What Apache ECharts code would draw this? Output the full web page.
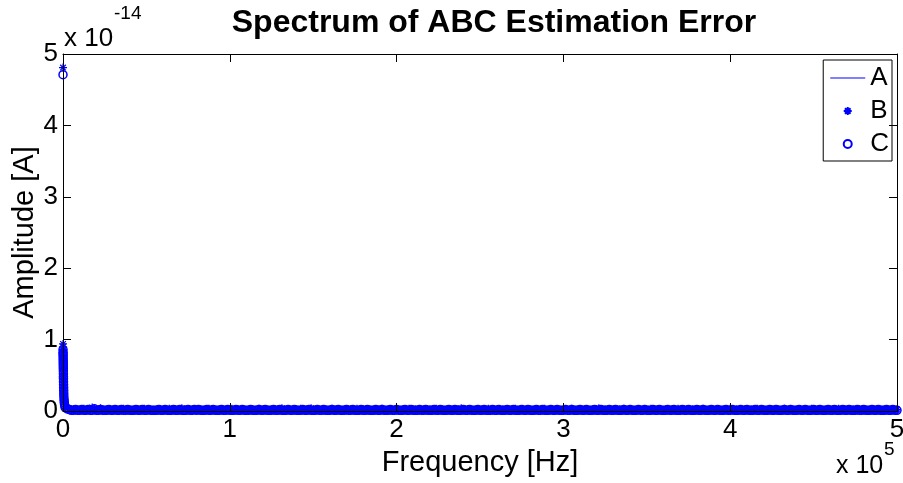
<!DOCTYPE html>
<html>
<head>
<meta charset="utf-8">
<script src="https://cdn.jsdelivr.net/npm/echarts@6/dist/echarts.min.js"></script>
<style>html,body{margin:0;padding:0;background:#fff}#c{width:903px;height:483px}</style>
</head>
<body>
<div id="c"></div>
<script>
// Frequency bins [Hz]
var freqHz = [
0,20,40,60,80,100,120,140,160,180,200,220,240,260,280,300,340,380,420,460,500,600,700,800,1000,
1250,2500,3750,5000,6250,7500,8750,10000,
11250,12500,13750,15000,16250,17500,18750,20000,
21250,22500,23750,25000,26250,27500,28750,30000,
31250,32500,33750,35000,36250,37500,38750,40000,
41250,42500,43750,45000,46250,47500,48750,50000,
51250,52500,53750,55000,56250,57500,58750,60000,
61250,62500,63750,65000,66250,67500,68750,70000,
71250,72500,73750,75000,76250,77500,78750,80000,
81250,82500,83750,85000,86250,87500,88750,90000,
91250,92500,93750,95000,96250,97500,98750,100000,
101250,102500,103750,105000,106250,107500,108750,110000,
111250,112500,113750,115000,116250,117500,118750,120000,
121250,122500,123750,125000,126250,127500,128750,130000,
131250,132500,133750,135000,136250,137500,138750,140000,
141250,142500,143750,145000,146250,147500,148750,150000,
151250,152500,153750,155000,156250,157500,158750,160000,
161250,162500,163750,165000,166250,167500,168750,170000,
171250,172500,173750,175000,176250,177500,178750,180000,
181250,182500,183750,185000,186250,187500,188750,190000,
191250,192500,193750,195000,196250,197500,198750,200000,
201250,202500,203750,205000,206250,207500,208750,210000,
211250,212500,213750,215000,216250,217500,218750,220000,
221250,222500,223750,225000,226250,227500,228750,230000,
231250,232500,233750,235000,236250,237500,238750,240000,
241250,242500,243750,245000,246250,247500,248750,250000,
251250,252500,253750,255000,256250,257500,258750,260000,
261250,262500,263750,265000,266250,267500,268750,270000,
271250,272500,273750,275000,276250,277500,278750,280000,
281250,282500,283750,285000,286250,287500,288750,290000,
291250,292500,293750,295000,296250,297500,298750,300000,
301250,302500,303750,305000,306250,307500,308750,310000,
311250,312500,313750,315000,316250,317500,318750,320000,
321250,322500,323750,325000,326250,327500,328750,330000,
331250,332500,333750,335000,336250,337500,338750,340000,
341250,342500,343750,345000,346250,347500,348750,350000,
351250,352500,353750,355000,356250,357500,358750,360000,
361250,362500,363750,365000,366250,367500,368750,370000,
371250,372500,373750,375000,376250,377500,378750,380000,
381250,382500,383750,385000,386250,387500,388750,390000,
391250,392500,393750,395000,396250,397500,398750,400000,
401250,402500,403750,405000,406250,407500,408750,410000,
411250,412500,413750,415000,416250,417500,418750,420000,
421250,422500,423750,425000,426250,427500,428750,430000,
431250,432500,433750,435000,436250,437500,438750,440000,
441250,442500,443750,445000,446250,447500,448750,450000,
451250,452500,453750,455000,456250,457500,458750,460000,
461250,462500,463750,465000,466250,467500,468750,470000,
471250,472500,473750,475000,476250,477500,478750,480000,
481250,482500,483750,485000,486250,487500,488750,490000,
491250,492500,493750,495000,496250,497500,498750,500000
];
// Amplitudes in units of 1e-14 A
var ampA = [
0.80,0.78,0.76,0.74,0.71,0.68,0.65,0.62,0.59,0.56,0.53,0.50,0.47,0.44,0.41,0.38,0.34,0.30,0.26,0.22,0.18,0.15,0.12,0.09,0.07,
0.05,0.03,0.02,0.01,0.01,0.00,0.01,0.02,
0.01,0.00,0.01,0.01,0.02,0.01,0.00,0.01,
0.01,0.02,0.01,0.00,0.01,0.01,0.01,0.02,
0.00,0.01,0.01,0.01,0.02,0.01,0.00,0.01,
0.01,0.01,0.02,0.01,0.00,0.01,0.01,0.02,
0.01,0.01,0.00,0.01,0.01,0.02,0.01,0.00,
0.01,0.01,0.02,0.00,0.01,0.01,0.01,0.02,
0.01,0.00,0.01,0.01,0.01,0.02,0.00,0.01,
0.01,0.01,0.02,0.01,0.00,0.01,0.01,0.02,
0.01,0.00,0.01,0.01,0.01,0.02,0.01,0.00,
0.01,0.01,0.02,0.01,0.00,0.01,0.01,0.01,
0.02,0.00,0.01,0.01,0.01,0.02,0.01,0.00,
0.01,0.01,0.02,0.01,0.00,0.01,0.01,0.01,
0.02,0.01,0.00,0.01,0.01,0.01,0.02,0.00,
0.01,0.01,0.02,0.01,0.00,0.01,0.01,0.01,
0.02,0.01,0.00,0.01,0.01,0.02,0.01,0.00,
0.01,0.01,0.01,0.02,0.01,0.00,0.01,0.01,
0.02,0.01,0.00,0.01,0.01,0.01,0.02,0.01,
0.00,0.01,0.01,0.02,0.01,0.00,0.01,0.01,
0.01,0.02,0.00,0.01,0.01,0.02,0.01,0.00,
0.01,0.01,0.01,0.02,0.01,0.00,0.01,0.01,
0.02,0.01,0.00,0.01,0.01,0.01,0.02,0.01,
0.00,0.01,0.01,0.02,0.01,0.00,0.01,0.01,
0.01,0.02,0.01,0.00,0.01,0.01,0.02,0.01,
0.00,0.01,0.01,0.01,0.02,0.01,0.00,0.01,
0.01,0.02,0.01,0.00,0.01,0.01,0.01,0.02,
0.01,0.00,0.01,0.01,0.02,0.01,0.00,0.01,
0.01,0.01,0.02,0.01,0.00,0.01,0.01,0.02,
0.01,0.00,0.01,0.01,0.01,0.02,0.01,0.00,
0.01,0.01,0.02,0.01,0.00,0.01,0.01,0.01,
0.02,0.01,0.00,0.01,0.01,0.02,0.01,0.00,
0.01,0.01,0.01,0.02,0.01,0.00,0.01,0.01,
0.02,0.01,0.00,0.01,0.01,0.01,0.02,0.01,
0.00,0.01,0.01,0.02,0.01,0.00,0.01,0.01,
0.01,0.02,0.01,0.00,0.01,0.01,0.02,0.01,
0.00,0.01,0.01,0.01,0.02,0.01,0.00,0.01,
0.01,0.02,0.01,0.00,0.01,0.01,0.01,0.02,
0.01,0.00,0.01,0.01,0.02,0.01,0.00,0.01,
0.01,0.01,0.02,0.01,0.00,0.01,0.01,0.02,
0.01,0.00,0.01,0.01,0.01,0.02,0.01,0.00,
0.01,0.01,0.02,0.01,0.00,0.01,0.01,0.01,
0.02,0.01,0.00,0.01,0.01,0.02,0.01,0.00,
0.01,0.01,0.01,0.02,0.01,0.00,0.01,0.01,
0.02,0.01,0.00,0.01,0.01,0.01,0.02,0.01,
0.00,0.01,0.01,0.02,0.01,0.00,0.01,0.01,
0.01,0.02,0.01,0.00,0.01,0.01,0.02,0.01,
0.00,0.01,0.01,0.01,0.02,0.01,0.00,0.01,
0.01,0.02,0.01,0.00,0.01,0.01,0.01,0.02,
0.01,0.00,0.01,0.01,0.02,0.01,0.01,0.01
];
var ampB = [
4.81,0.94,0.90,0.86,0.82,0.79,0.76,0.73,0.70,0.67,0.64,0.60,0.56,0.52,0.48,0.44,0.40,0.36,0.32,0.28,0.24,0.20,0.16,0.12,0.09,
0.06,0.04,0.03,0.02,0.02,0.01,0.02,0.01,
0.01,0.03,0.01,0.02,0.01,0.05,0.02,0.01,
0.01,0.04,0.01,0.01,0.02,0.01,0.01,0.02,
0.01,0.01,0.02,0.01,0.03,0.01,0.01,0.02,
0.01,0.01,0.01,0.02,0.01,0.01,0.03,0.01,
0.02,0.01,0.01,0.01,0.02,0.01,0.01,0.01,
0.02,0.01,0.03,0.01,0.01,0.02,0.01,0.01,
0.04,0.01,0.02,0.01,0.01,0.01,0.02,0.01,
0.01,0.02,0.01,0.01,0.01,0.03,0.01,0.02,
0.01,0.01,0.02,0.01,0.01,0.01,0.02,0.01,
0.03,0.01,0.01,0.02,0.01,0.01,0.02,0.01,
0.01,0.01,0.02,0.01,0.01,0.03,0.01,0.02,
0.01,0.01,0.01,0.02,0.01,0.01,0.02,0.01,
0.04,0.01,0.01,0.02,0.01,0.01,0.01,0.02,
0.01,0.03,0.01,0.01,0.02,0.01,0.04,0.01,
0.01,0.02,0.01,0.01,0.01,0.02,0.01,0.01,
0.03,0.01,0.02,0.01,0.01,0.01,0.02,0.01,
0.01,0.02,0.01,0.01,0.03,0.01,0.01,0.02,
0.01,0.01,0.02,0.01,0.01,0.01,0.02,0.01,
0.03,0.01,0.01,0.02,0.01,0.01,0.01,0.02,
0.01,0.01,0.02,0.01,0.01,0.03,0.01,0.01,
0.02,0.01,0.01,0.01,0.02,0.01,0.01,0.02,
0.01,0.01,0.03,0.01,0.01,0.02,0.01,0.01,
0.01,0.02,0.01,0.01,0.02,0.01,0.04,0.01,
0.01,0.02,0.01,0.01,0.01,0.02,0.01,0.01,
0.02,0.01,0.01,0.03,0.01,0.01,0.02,0.01,
0.01,0.01,0.02,0.01,0.01,0.02,0.01,0.01,
0.03,0.01,0.01,0.02,0.01,0.01,0.01,0.02,
0.01,0.01,0.02,0.01,0.01,0.01,0.03,0.01,
0.01,0.02,0.01,0.01,0.02,0.01,0.01,0.01,
0.02,0.01,0.01,0.03,0.01,0.01,0.02,0.01,
0.01,0.01,0.02,0.01,0.01,0.02,0.01,0.01,
0.04,0.01,0.01,0.02,0.01,0.01,0.01,0.02,
0.01,0.01,0.02,0.01,0.03,0.01,0.01,0.02,
0.01,0.01,0.01,0.02,0.01,0.01,0.02,0.01,
0.01,0.03,0.01,0.01,0.02,0.01,0.01,0.01,
0.02,0.01,0.01,0.02,0.01,0.01,0.03,0.01,
0.01,0.02,0.01,0.01,0.01,0.02,0.01,0.01,
0.02,0.01,0.03,0.01,0.01,0.02,0.01,0.01,
0.01,0.02,0.01,0.01,0.02,0.01,0.01,0.03,
0.01,0.01,0.02,0.01,0.01,0.01,0.02,0.01,
0.01,0.02,0.01,0.01,0.03,0.01,0.01,0.02,
0.01,0.01,0.01,0.02,0.01,0.01,0.02,0.01,
0.01,0.03,0.01,0.01,0.02,0.01,0.01,0.01,
0.02,0.01,0.01,0.02,0.01,0.01,0.03,0.01,
0.01,0.02,0.01,0.01,0.01,0.02,0.01,0.01,
0.02,0.01,0.01,0.03,0.01,0.01,0.02,0.01,
0.01,0.01,0.02,0.01,0.01,0.02,0.01,0.01,
0.02,0.01,0.01,0.01,0.02,0.01,0.01,0.01,
0.01,0.02,0.01,0.01,0.01,0.02,0.01,0.02
];
var ampC = [
4.71,0.86,0.82,0.80,0.77,0.74,0.71,0.68,0.65,0.62,0.59,0.56,0.52,0.48,0.45,0.41,0.37,0.33,0.29,0.25,0.21,0.17,0.14,0.11,0.08,
0.05,0.03,0.02,0.01,0.01,0.02,0.01,0.01,
0.02,0.01,0.01,0.02,0.01,0.01,0.03,0.01,
0.01,0.02,0.01,0.01,0.01,0.02,0.01,0.01,
0.02,0.01,0.01,0.02,0.01,0.01,0.02,0.01,
0.01,0.01,0.02,0.01,0.01,0.02,0.01,0.01,
0.02,0.01,0.01,0.01,0.01,0.02,0.01,0.01,
0.02,0.01,0.01,0.01,0.02,0.01,0.01,0.02,
0.01,0.01,0.01,0.02,0.01,0.01,0.02,0.01,
0.02,0.01,0.01,0.01,0.02,0.01,0.01,0.02,
0.01,0.01,0.01,0.02,0.01,0.01,0.02,0.01,
0.01,0.01,0.02,0.01,0.01,0.02,0.01,0.01,
0.01,0.02,0.01,0.01,0.01,0.02,0.01,0.01,
0.02,0.01,0.01,0.01,0.02,0.01,0.01,0.02,
0.01,0.01,0.01,0.02,0.01,0.01,0.02,0.01,
0.01,0.01,0.02,0.01,0.01,0.02,0.01,0.01,
0.01,0.02,0.01,0.01,0.02,0.01,0.01,0.01,
0.02,0.01,0.01,0.02,0.01,0.01,0.01,0.02,
0.01,0.01,0.02,0.01,0.01,0.01,0.02,0.01,
0.01,0.02,0.01,0.01,0.01,0.02,0.01,0.01,
0.02,0.01,0.01,0.01,0.02,0.01,0.01,0.02,
0.01,0.01,0.01,0.02,0.01,0.01,0.02,0.01,
0.01,0.01,0.02,0.01,0.01,0.02,0.01,0.01,
0.01,0.02,0.01,0.01,0.02,0.01,0.01,0.01,
0.02,0.01,0.01,0.02,0.01,0.01,0.01,0.02,
0.01,0.01,0.02,0.01,0.01,0.01,0.02,0.01,
0.01,0.02,0.01,0.01,0.01,0.02,0.01,0.01,
0.02,0.01,0.01,0.01,0.02,0.01,0.01,0.02,
0.01,0.01,0.01,0.02,0.01,0.01,0.02,0.01,
0.01,0.01,0.02,0.01,0.01,0.02,0.01,0.01,
0.01,0.02,0.01,0.01,0.02,0.01,0.01,0.01,
0.02,0.01,0.01,0.02,0.01,0.01,0.01,0.02,
0.01,0.01,0.02,0.01,0.01,0.01,0.02,0.01,
0.01,0.02,0.01,0.01,0.01,0.02,0.01,0.01,
0.02,0.01,0.01,0.01,0.02,0.01,0.01,0.02,
0.01,0.01,0.01,0.02,0.01,0.01,0.02,0.01,
0.01,0.01,0.02,0.01,0.01,0.02,0.01,0.01,
0.01,0.02,0.01,0.01,0.02,0.01,0.01,0.01,
0.02,0.01,0.01,0.02,0.01,0.01,0.01,0.02,
0.01,0.01,0.02,0.01,0.01,0.01,0.02,0.01,
0.01,0.02,0.01,0.01,0.01,0.02,0.01,0.01,
0.02,0.01,0.01,0.01,0.02,0.01,0.01,0.02,
0.01,0.01,0.01,0.02,0.01,0.01,0.02,0.01,
0.01,0.01,0.02,0.01,0.01,0.02,0.01,0.01,
0.01,0.02,0.01,0.01,0.02,0.01,0.01,0.01,
0.02,0.01,0.01,0.02,0.01,0.01,0.01,0.02,
0.01,0.01,0.02,0.01,0.01,0.01,0.02,0.01,
0.01,0.02,0.01,0.01,0.01,0.02,0.01,0.01,
0.02,0.01,0.01,0.01,0.02,0.01,0.01,0.02,
0.01,0.01,0.01,0.02,0.01,0.01,0.02,0.01,
0.01,0.01,0.02,0.01,0.01,0.02,0.01,0.01
];
var xTicks = [0,1,2,3,4,5];      // x 10^5 Hz
var yTicks = [0,1,2,3,4,5];      // x 10^-14 A
var seriesNames = ['A','B','C'];

function pairs(xs, ys){ var out=[]; var n=Math.min(xs.length, ys.length); for (var i=0;i<n;i++) out.push([xs[i], ys[i]]); return out; }

var FONT = 'Liberation Sans, Arial, Helvetica, sans-serif';
var BLUE = '#0000ff';
var AX = '#000000';
var ASTER = 'path://M10,0L10,20M0,10L20,10M3,3L17,17M3,17L17,3';

var chart = echarts.init(document.getElementById('c'), null, {renderer:'canvas'});
chart.setOption({
  animation: false,
  backgroundColor: '#ffffff',
  title: {
    text: 'Spectrum of ABC Estimation Error',
    left: 489, top: 2, textAlign: 'center',
    textStyle: {fontFamily: FONT, fontWeight: 'bold', fontSize: 32, color: '#000'}
  },
  grid: {left: 63, right: 6, top: 54, bottom: 72, containLabel: false, outerBoundsMode: 'none'},
  legend: {
    data: [
      {name: 'A', icon: 'path://M0,0L40,0L40,1.4L0,1.4Z'},
      {name: 'B', icon: ASTER},
      {name: 'C', icon: 'circle'}
    ],
    orient: 'vertical', right: 11, top: 60,
    itemWidth: 35, itemHeight: 8, itemGap: 7,
    padding: [5, 3, 4, 7],
    borderColor: '#000', borderWidth: 1, backgroundColor: '#fff',
    textStyle: {fontFamily: FONT, fontSize: 26, color: '#000', lineHeight: 26},
    selectedMode: false
  },
  xAxis: [{
    type: 'value', min: 0, max: 500000, interval: 100000, position: 'bottom', z: 10,
    name: 'Frequency [Hz]', nameLocation: 'middle', nameGap: 37, nameMoveOverlap: false,
    nameTextStyle: {fontFamily: FONT, fontSize: 29, color: '#000'},
    axisLine: {show: true, onZero: false, lineStyle: {color: AX, width: 1}},
    axisTick: {show: true, inside: true, length: 8, lineStyle: {color: AX}},
    axisLabel: {fontFamily: FONT, fontSize: 26, color: '#000', margin: 6,
      formatter: function(v){ return String(Math.round(v/100000)); }},
    splitLine: {show: false}
  },{
    type: 'value', min: 0, max: 500000, interval: 100000, position: 'top', z: 10,
    axisLine: {show: true, onZero: false, lineStyle: {color: AX, width: 1}},
    axisTick: {show: true, inside: true, length: 8, lineStyle: {color: AX}},
    axisLabel: {show: false}, splitLine: {show: false}
  }],
  yAxis: [{
    type: 'value', min: 0, max: 5, interval: 1, position: 'left', z: 10,
    name: 'Amplitude [A]', nameLocation: 'middle', nameGap: 24, nameRotate: 90, nameMoveOverlap: false,
    nameTextStyle: {fontFamily: FONT, fontSize: 29, color: '#000'},
    axisLine: {show: true, onZero: false, lineStyle: {color: AX, width: 1}},
    axisTick: {show: true, inside: true, length: 8, lineStyle: {color: AX}},
    axisLabel: {fontFamily: FONT, fontSize: 26, color: '#000', margin: 5,
      formatter: function(v){ return String(Math.round(v)); }},
    splitLine: {show: false}
  },{
    type: 'value', min: 0, max: 5, interval: 1, position: 'right', z: 10,
    axisLine: {show: true, onZero: false, lineStyle: {color: AX, width: 1}},
    axisTick: {show: true, inside: true, length: 8, lineStyle: {color: AX}},
    axisLabel: {show: false}, splitLine: {show: false}
  }],
  graphic: [
    {type: 'text', left: 64, top: 26, style: {text: 'x 10', font: '26px ' + FONT, fill: '#000'}},
    {type: 'text', left: 114, top: 4, style: {text: '-14', font: '19px ' + FONT, fill: '#000'}},
    {type: 'text', left: 836, top: 454, style: {text: 'x 10', font: '25px ' + FONT, fill: '#000'}},
    {type: 'text', left: 884, top: 440, style: {text: '5', font: '19px ' + FONT, fill: '#000'}}
  ],
  series: [
    {name: seriesNames[0], type: 'line', data: pairs(freqHz, ampA), symbol: 'none', showSymbol: false,
     lineStyle: {color: BLUE, width: 1}, itemStyle: {color: BLUE}, z: 2},
    {name: seriesNames[1], type: 'scatter', data: pairs(freqHz, ampB), symbol: ASTER, symbolSize: 8,
     itemStyle: {color: BLUE, borderColor: BLUE, borderWidth: 1.2, opacity: 1}, z: 3},
    {name: seriesNames[2], type: 'scatter', data: pairs(freqHz, ampC), symbol: 'circle', symbolSize: 8,
     itemStyle: {color: 'rgba(0,0,0,0)', borderColor: BLUE, borderWidth: 1.5, opacity: 1}, z: 3}
  ]
});
</script>
</body>
</html>
